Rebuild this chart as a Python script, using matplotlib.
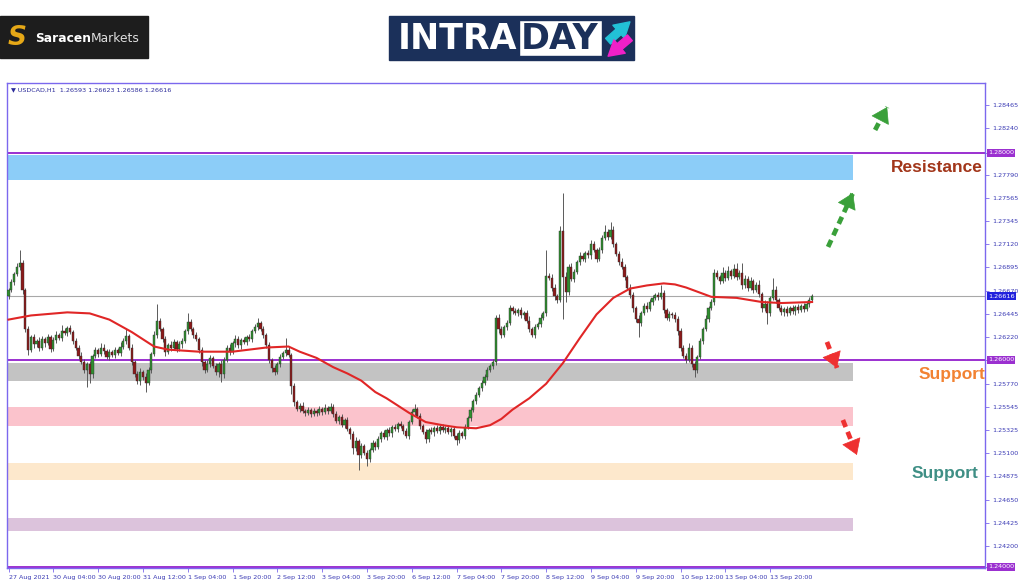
import matplotlib.pyplot as plt
import numpy as np
from matplotlib.patches import Rectangle, FancyArrowPatch
import matplotlib.transforms as mtransforms

# USDCAD H1 closes, 27 Aug 2021 12:00 .. 14 Sep 2021 11:00
closes = [
    1.2668, 1.2675, 1.2683, 1.2690, 1.2694, 1.2668, 1.2630, 1.2610,
    1.2622, 1.2615, 1.2618, 1.2612, 1.2620, 1.2616, 1.2622, 1.2611, 1.2619, 1.2624, 1.2621, 1.2628, 1.2626, 1.2631, 1.2627,
    1.2618, 1.2612, 1.2604, 1.2598, 1.2590, 1.2596, 1.2586, 1.2604,
    1.2610, 1.2606, 1.2612, 1.2609, 1.2603, 1.2608, 1.2605, 1.2610, 1.2607, 1.2613, 1.2618, 1.2623,
    1.2612, 1.2598, 1.2586, 1.2580, 1.2588, 1.2584, 1.2578, 1.2590,
    1.2606, 1.2624, 1.2638, 1.2630, 1.2620,
    1.2608, 1.2614, 1.2612, 1.2617, 1.2611, 1.2615, 1.2618, 1.2628, 1.2637, 1.2630, 1.2624, 1.2620,
    1.2610, 1.2598, 1.2590, 1.2596, 1.2602, 1.2594, 1.2588, 1.2596, 1.2586, 1.2600,
    1.2612, 1.2608, 1.2616, 1.2620, 1.2614, 1.2619, 1.2617, 1.2622, 1.2620, 1.2628, 1.2632, 1.2636, 1.2630,
    1.2624, 1.2614, 1.2600, 1.2592, 1.2588, 1.2596, 1.2603, 1.2607, 1.2610, 1.2605,
    1.2575, 1.2559, 1.2553, 1.2556, 1.2551, 1.2549, 1.2552, 1.2548, 1.2551, 1.2549, 1.2553, 1.2550, 1.2554, 1.2551,
    1.2555, 1.2548, 1.2541, 1.2545, 1.2537, 1.2542, 1.2533,
    1.2528, 1.2515, 1.2522, 1.2508, 1.2517, 1.2510, 1.2504, 1.2513, 1.2520, 1.2516, 1.2524, 1.2529, 1.2526, 1.2532,
    1.2529, 1.2535, 1.2533, 1.2538, 1.2536, 1.2531, 1.2527,
    1.2540, 1.2550, 1.2553, 1.2546, 1.2536, 1.2530, 1.2524, 1.2532, 1.2530, 1.2534, 1.2531, 1.2535, 1.2532, 1.2534,
    1.2530, 1.2533, 1.2527, 1.2523, 1.2529,
    1.2527, 1.2535, 1.2544, 1.2552, 1.2560, 1.2566, 1.2573, 1.2578, 1.2584, 1.2590, 1.2594, 1.2598,
    1.2641, 1.2630, 1.2624, 1.2632, 1.2636, 1.2650, 1.2647, 1.2645, 1.2648, 1.2643, 1.2645, 1.2638, 1.2630, 1.2624,
    1.2632, 1.2635, 1.2641, 1.2645,
    1.2681, 1.2679, 1.2670, 1.2662, 1.2658, 1.2725, 1.2680, 1.2666,
    1.2690, 1.2678, 1.2685, 1.2695, 1.2700, 1.2698, 1.2703, 1.2701, 1.2712, 1.2706, 1.2698, 1.2706, 1.2718, 1.2724,
    1.2719, 1.2726, 1.2712, 1.2702, 1.2695, 1.2690, 1.2680, 1.2670, 1.2663, 1.2650, 1.2640, 1.2636,
    1.2645, 1.2652, 1.2649, 1.2656, 1.2660, 1.2663, 1.2661, 1.2665, 1.2648, 1.2641, 1.2644, 1.2643, 1.2640, 1.2628,
    1.2612, 1.2604, 1.2600, 1.2612, 1.2596, 1.2590,
    1.2603, 1.2618, 1.2630, 1.2640, 1.2650, 1.2656, 1.2684, 1.2680, 1.2676, 1.2684, 1.2679, 1.2686, 1.2681, 1.2688,
    1.2680, 1.2684, 1.2672, 1.2678, 1.2670, 1.2676, 1.2668, 1.2672, 1.2664, 1.2650, 1.2654, 1.2645, 1.2660, 1.2668,
    1.2658, 1.2650, 1.2646, 1.2649, 1.2645, 1.2650, 1.2647, 1.2651, 1.2648, 1.2652, 1.2649, 1.2654, 1.2658, 1.26616,
]
first_open = 1.2662

# wick lengths beyond the body, in pips
upper_wick = [
    2, 3, 2, 4, 12, 3, 2, 3, 2, 3, 2, 4, 3, 2, 3, 2, 3, 4, 2, 6, 3, 2, 3, 2,
    3, 2, 4, 3, 2, 3, 2, 3, 2, 4, 3, 2, 3, 2, 3, 2, 4, 3, 7, 2, 3, 2, 3, 4,
    2, 3, 3, 2, 4, 16, 3, 2, 3, 2, 4, 3, 2, 3, 3, 2, 8, 3, 2, 3, 2, 3, 2, 4,
    3, 2, 3, 2, 4, 3, 2, 3, 2, 4, 3, 2, 3, 2, 3, 2, 3, 5, 2, 3, 2, 3, 2, 3,
    2, 3, 2, 11, 3, 2, 3, 2, 2, 3, 2, 3, 2, 3, 2, 3, 2, 3, 2, 3, 2, 3, 2, 3,
    2, 3, 2, 3, 4, 2, 3, 2, 3, 2, 3, 2, 3, 2, 3, 2, 3, 2, 3, 2, 3, 2, 3, 2,
    3, 4, 2, 3, 2, 3, 2, 3, 2, 3, 2, 3, 2, 3, 2, 3, 2, 3, 2, 3, 2, 3, 2, 3,
    2, 3, 2, 3, 2, 3, 2, 3, 3, 2, 3, 3, 2, 3, 2, 3, 2, 3, 4, 2, 3, 2, 3, 2,
    25, 3, 4, 3, 2, 4, 36, 5, 3, 4, 3, 2, 4, 3, 2, 3, 4, 3, 2, 3, 3, 6, 3, 7,
    3, 2, 3, 4, 3, 2, 3, 3, 2, 3, 2, 3, 4, 3, 3, 2, 3, 7, 3, 2, 3, 2, 3, 2,
    3, 2, 3, 4, 2, 3, 2, 3, 2, 3, 2, 3, 4, 3, 2, 6, 3, 5, 2, 5, 6, 3, 10, 4,
    3, 4, 2, 3, 5, 2, 4, 3, 2, 11, 3, 2, 3, 2, 3, 2, 3, 2, 3, 2, 3, 2, 3, 2,
]
lower_wick = [
    3, 2, 3, 2, 3, 4, 3, 5, 2, 3, 2, 3, 2, 3, 2, 3, 2, 3, 2, 3, 2, 3, 2, 3,
    2, 3, 2, 3, 16, 8, 3, 2, 3, 2, 3, 2, 3, 2, 3, 2, 3, 2, 3, 2, 3, 2, 3, 4,
    3, 9, 2, 3, 2, 3, 2, 3, 4, 2, 3, 2, 3, 2, 3, 2, 3, 2, 3, 2, 3, 4, 3, 2,
    3, 2, 3, 4, 7, 3, 2, 3, 2, 3, 2, 3, 2, 3, 2, 3, 2, 3, 2, 3, 2, 3, 4, 3,
    2, 3, 2, 3, 2, 8, 3, 2, 3, 2, 3, 2, 3, 2, 3, 2, 3, 2, 3, 2, 3, 2, 3, 2,
    3, 2, 4, 6, 3, 14, 3, 2, 6, 3, 2, 3, 2, 3, 2, 3, 2, 3, 2, 3, 2, 3, 2, 3,
    2, 3, 2, 3, 2, 4, 3, 2, 3, 2, 3, 2, 3, 2, 3, 2, 5, 3, 2, 3, 2, 3, 2, 3,
    2, 3, 2, 3, 2, 3, 3, 4, 3, 2, 3, 2, 3, 2, 3, 2, 3, 2, 3, 2, 3, 2, 3, 2,
    3, 2, 3, 4, 3, 2, 40, 10, 3, 2, 3, 2, 3, 2, 3, 2, 3, 2, 3, 2, 3, 2, 3, 2,
    3, 2, 3, 2, 3, 2, 3, 4, 3, 14, 3, 2, 3, 2, 3, 2, 3, 2, 3, 2, 3, 2, 3, 4,
    3, 2, 3, 2, 3, 6, 3, 2, 3, 2, 3, 2, 3, 2, 3, 2, 3, 2, 3, 2, 3, 2, 3, 2,
    3, 2, 3, 2, 3, 4, 3, 10, 3, 2, 3, 2, 3, 4, 3, 2, 3, 4, 3, 2, 3, 2, 3, 2,
]

# moving average (red line), read at selected bars
ma_bars = [0, 8, 21, 29, 36, 44, 52, 57, 68, 80, 92, 100, 104, 110, 116, 121, 126, 131, 135, 139,
           143, 149, 155, 160, 167, 172, 176, 180, 186, 192, 198, 204, 210, 216, 222, 228, 234,
           238, 242, 247, 251, 260, 269, 276, 287]
ma_values = [1.2639, 1.2643, 1.2646, 1.2645, 1.2639, 1.2627, 1.2613, 1.2610, 1.2608, 1.2608,
             1.2612, 1.2613, 1.2608, 1.2602, 1.2593, 1.2587, 1.2580, 1.2569, 1.2563, 1.2556,
             1.2549, 1.2540, 1.2537, 1.2535, 1.2534, 1.2537, 1.2543, 1.2552, 1.2563, 1.2577,
             1.2597, 1.2621, 1.2644, 1.2660, 1.2669, 1.2672, 1.2674, 1.2673, 1.2670, 1.2665,
             1.2661, 1.2660, 1.2656, 1.2655, 1.2656]

# shaded zones
zone_low = [1.27739, 1.25797, 1.25362, 1.24841, 1.24348]
zone_high = [1.27981, 1.25971, 1.25546, 1.25005, 1.24473]
zone_colors = ['#8ccdf8', '#c3c3c3', '#fbc3cc', '#fde8cc', '#dcc3dc']
zone_end = 301.6

levels = [1.28000, 1.26000, 1.24000]
last_price = 1.26616

y_ticks = [1.28465, 1.28240, 1.28000, 1.27790, 1.27565, 1.27345, 1.27120, 1.26895, 1.26670,
           1.26445, 1.26220, 1.26000, 1.25770, 1.25545, 1.25325, 1.25100, 1.24875, 1.24650,
           1.24425, 1.24200, 1.24000]
x_tick_labels = ['27 Aug 2021', '30 Aug 04:00', '30 Aug 20:00', '31 Aug 12:00', '1 Sep 04:00',
                 '1 Sep 20:00', '2 Sep 12:00', '3 Sep 04:00', '3 Sep 20:00', '6 Sep 12:00',
                 '7 Sep 04:00', '7 Sep 20:00', '8 Sep 12:00', '9 Sep 04:00', '9 Sep 20:00',
                 '10 Sep 12:00', '13 Sep 04:00', '13 Sep 20:00']

# dashed direction arrows: (bar0, price0, bar1, price1)
up_arrows = [(292.7, 1.27092, 301.6, 1.27614), (309.5, 1.28222, 313.8, 1.28444)]
down_arrows = [(292.3, 1.26174, 295.9, 1.25923), (298.0, 1.25420, 303.0, 1.25082)]

axis_blue = '#3a3ab4'
frame = '#7b68ee'
purple = '#9b30d0'

fig = plt.figure(figsize=(10.24, 5.87), dpi=100)

# logos on a pixel-space overlay
deco = fig.add_axes([0, 0, 1, 1])
deco.set_xlim(0, 1024)
deco.set_ylim(587, 0)
deco.axis('off')

deco.add_patch(Rectangle((0, 16), 148, 42, color='#1d1d1d'))
deco.text(17, 38, 'S', color='#e6a817', fontsize=19, fontweight='bold', style='italic',
          ha='center', va='center')
t1 = deco.text(35, 39, 'Saracen', color='white', fontsize=8.8, fontweight='bold', va='center')
deco.annotate('Markets', xy=(1, 0.5), xycoords=t1, color='#e0e0e0', fontsize=8.8, va='center')

deco.add_patch(Rectangle((389, 16), 245, 44, color='#1b305a'))
deco.text(517, 39, 'INTRA', color='white', fontsize=25, fontweight='bold', ha='right', va='center')
deco.add_patch(Rectangle((519, 20), 83, 36, facecolor='white', edgecolor='#1b305a', lw=1))
deco.text(560, 39, 'DAY', color='#1b305a', fontsize=25, fontweight='bold', ha='center', va='center')
deco.add_patch(FancyArrowPatch((606, 43), (632, 20), arrowstyle='simple,head_width=1.4,head_length=1.2,tail_width=0.6',
                               color='#22c1d6', mutation_scale=9))
deco.add_patch(FancyArrowPatch((632, 36), (606, 58), arrowstyle='simple,head_width=1.4,head_length=1.2,tail_width=0.6',
                               color='#f020c8', mutation_scale=9))

ax = fig.add_axes([7 / 1024, 19 / 587, 978 / 1024, 485 / 587])
n = len(closes)
x = np.arange(n)
c = np.array(closes)
o = np.array([first_open] + closes[:-1])
top = np.maximum(o, c)
bot = np.minimum(o, c)
hi = top + np.array(upper_wick[:n]) * 1e-4
lo = bot - np.array(lower_wick[:n]) * 1e-4

for zl, zh, zc in zip(zone_low, zone_high, zone_colors):
    ax.fill_between([-1, zone_end], zl, zh, color=zc, lw=0, zorder=1)

for lv in levels:
    ax.axhline(lv, color=purple, lw=1.4, zorder=2)
ax.axhline(last_price, color='#a8a8a8', lw=0.8, zorder=2)

ax.vlines(x, lo, hi, color='#5a5a5a', lw=0.7, zorder=3)
body_colors = np.where(c >= o, '#2f8f2f', '#8b1a1a')
ax.bar(x, np.maximum(top - bot, 0.00004), bottom=bot, width=0.75, color=body_colors,
       edgecolor='#303030', linewidth=0.3, zorder=4)

ax.plot(ma_bars, ma_values, color='#e02626', lw=1.5, zorder=5)


def dashed_arrow(x0, y0, x1, y1, color):
    # dashed shaft, then a solid head on top
    ax.plot([x0, x1], [y0, y1], color=color, lw=3.4, dashes=(1.6, 1.1), solid_capstyle='butt', zorder=6)
    ax.annotate('', xy=(x1, y1), xytext=(x0 + 0.7 * (x1 - x0), y0 + 0.7 * (y1 - y0)),
                arrowprops=dict(arrowstyle='-|>,head_length=0.85,head_width=0.55', color=color,
                                lw=0.5, mutation_scale=12, shrinkA=0, shrinkB=0), zorder=7)


for a in up_arrows:
    dashed_arrow(*a, '#3aa03a')
for a in down_arrows:
    dashed_arrow(*a, '#ee3030')

label_font = ['Liberation Sans Narrow', 'Liberation Sans']
ax.text(331.6, 1.27855, 'Resistance', color='#a2361a', fontsize=12.5, fontweight='bold',
        family=label_font, ha='center', va='center', zorder=6)
ax.text(337.0, 1.25855, 'Support', color='#f28232', fontsize=12.5, fontweight='bold',
        family=label_font, ha='center', va='center', zorder=6)
ax.text(334.5, 1.24899, 'Support', color='#3f8f85', fontsize=12.5, fontweight='bold',
        family=label_font, ha='center', va='center', zorder=6)

ax.text(0.004, 0.987, '\u25bc USDCAD,H1  1.26593 1.26623 1.26586 1.26616', transform=ax.transAxes,
        color='#2b2b9a', fontsize=4.6, va='center', ha='left')

ax.set_xlim(-0.54, 348.75)
ax.set_ylim(1.23990, 1.28676)

ax.yaxis.tick_right()
ax.set_yticks(y_ticks)
# the level prices get their own coloured boxes below
ax.set_yticklabels(['' if round(v, 5) in levels else f'{v:.5f}' for v in y_ticks])
ax.set_xticks(np.arange(len(x_tick_labels)) * 16)
ax.set_xticklabels(x_tick_labels, ha='left')
ax.tick_params(axis='both', colors=frame, labelcolor=axis_blue, labelsize=4.6, length=3, width=0.6)
ax.tick_params(axis='x', pad=2)
ax.tick_params(axis='y', pad=2)
for s in ax.spines.values():
    s.set_color(frame)
    s.set_linewidth(1.0)

tr = mtransforms.blended_transform_factory(ax.transAxes, ax.transData)
for lv in levels:
    ax.text(1.003, lv, f'{lv:.5f}', transform=tr, color='white', fontsize=4.6, va='center', ha='left',
            bbox=dict(boxstyle='square,pad=0.2', facecolor=purple, edgecolor='none'), clip_on=False, zorder=7)
ax.text(1.003, last_price, f'{last_price:.5f}', transform=tr, color='white', fontsize=4.6, va='center',
        ha='left', bbox=dict(boxstyle='square,pad=0.2', facecolor='#2222dd', edgecolor='none'),
        clip_on=False, zorder=7)

fig.savefig('out.png', dpi=100)
